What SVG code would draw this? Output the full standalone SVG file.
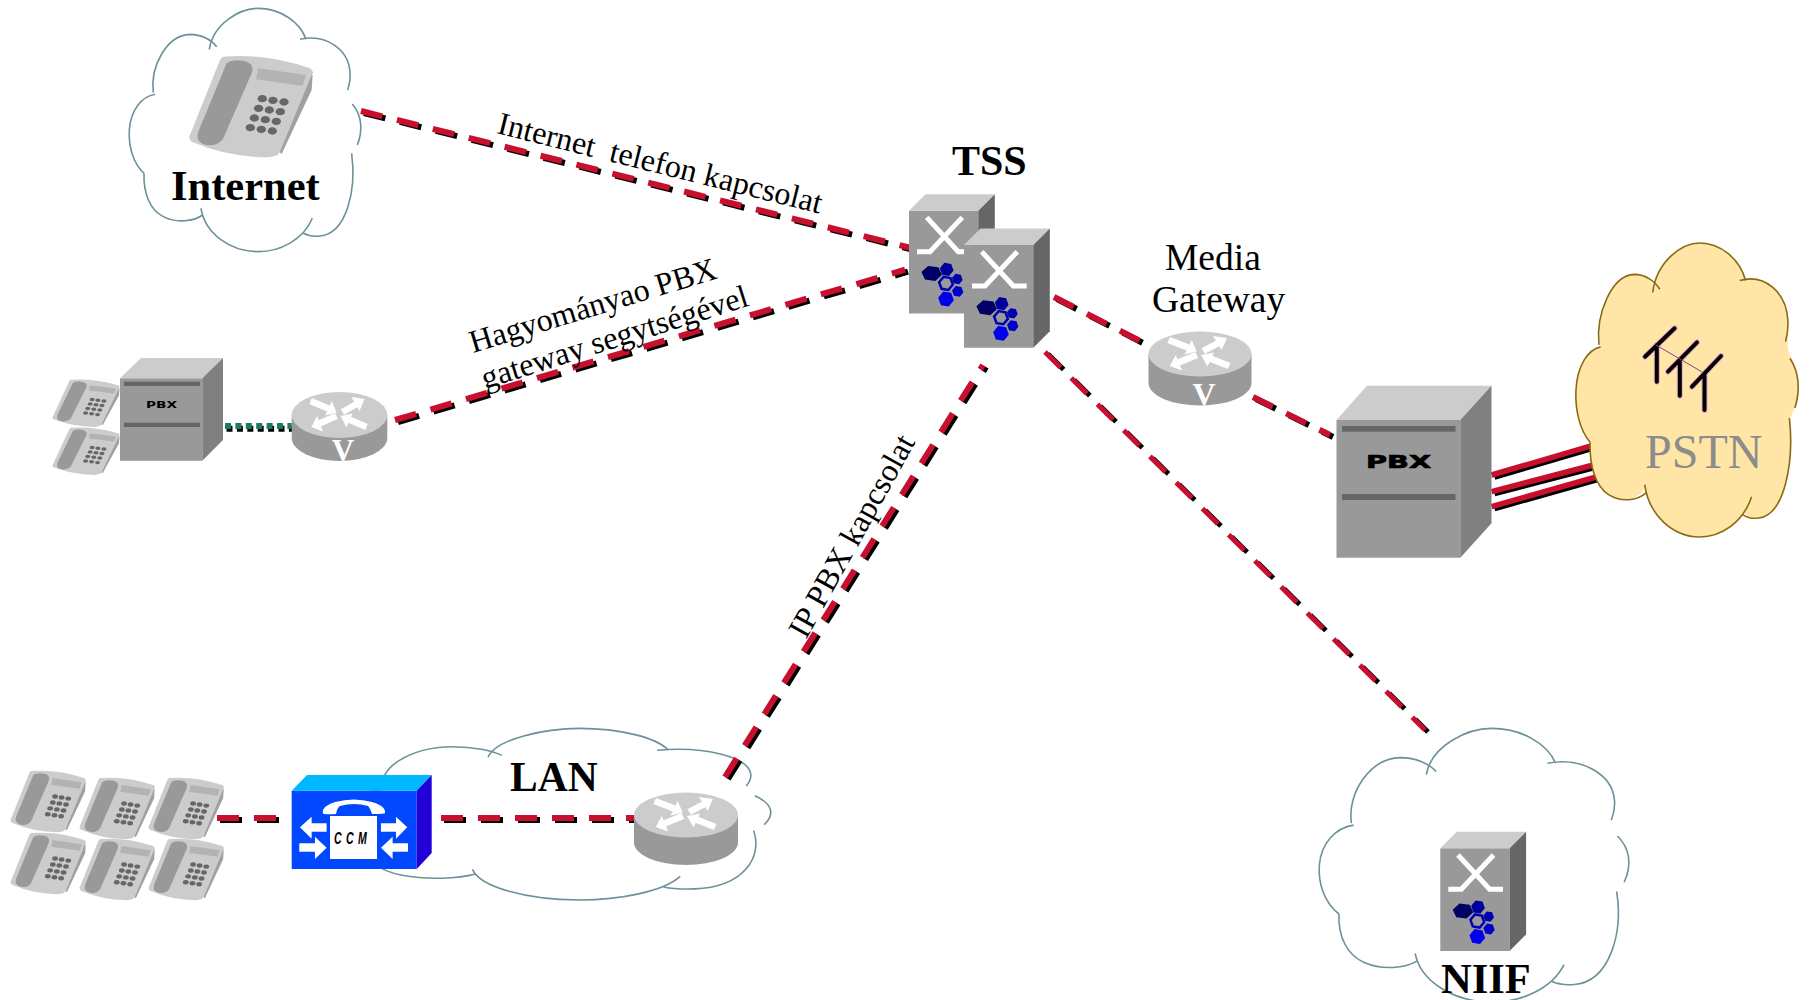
<svg xmlns="http://www.w3.org/2000/svg" xmlns:xlink="http://www.w3.org/1999/xlink" width="1810" height="1000" viewBox="0 0 1810 1000">
<style>
text{font-family:"Liberation Serif","Times New Roman",serif;fill:#000}
.b{font-weight:bold}
.cl{fill:none;stroke:var(--c,#6b9298);stroke-width:1.6;vector-effect:non-scaling-stroke}
.r{fill:none;stroke:#c8102e;stroke-width:6;stroke-dasharray:22 15}
.k{fill:none;stroke:#000;stroke-width:6;stroke-dasharray:22 15}
.rt{stroke-width:5}
.top{fill:#ccc}.front{fill:#999}.side{fill:#666}.side2{fill:#808080}.band{fill:#666}
.w{fill:#fff}.ws{stroke:#fff;fill:none}
</style>
<defs>
<g id="cloud">
<path class="cl" d="M328 148C340 70 420 25 475 25C540 25 600 65 618 118"/>
<path class="cl" d="M600 118C680 100 745 150 750 215C752 235 748 255 743 270"/>
<path class="cl" d="M757 312C785 345 790 390 772 435"/>
<path class="cl" d="M755 460C770 570 740 700 660 708C640 710 625 708 610 700"/>
<path class="cl" d="M637 655C610 720 540 755 475 755C390 755 315 700 303 625"/>
<path class="cl" d="M308 645C280 665 230 670 190 650C150 630 130 580 132 520"/>
<path class="cl" d="M132 520C100 490 85 440 88 390C92 330 125 290 165 283"/>
<path class="cl" d="M160 278C150 200 200 105 270 103C305 103 335 120 350 140"/>
</g>
<g id="phone">
<path fill="#a0a0a0" d="M625 225L638 225L635 270L545 462L520 440Z"/>
<path fill="#ccc" d="M370 170Q500 160 630 205Q645 215 635 225L540 455Q535 470 500 472Q380 470 275 425Q262 415 272 400L360 180Q363 172 370 170Z"/>
<path fill="#999" d="M380 190Q400 175 440 185Q465 195 455 220L370 415Q355 440 320 435Q285 428 295 395Z"/>
<polygon fill="#b3b3b3" points="475,205 618,225 608,258 468,238"/>
<g fill="#666">
<ellipse cx="487" cy="296" rx="14" ry="11"/><ellipse cx="519" cy="301" rx="14" ry="11"/><ellipse cx="552" cy="306" rx="14" ry="11"/>
<ellipse cx="476" cy="325" rx="14" ry="11"/><ellipse cx="508" cy="330" rx="14" ry="11"/><ellipse cx="541" cy="335" rx="14" ry="11"/>
<ellipse cx="463" cy="354" rx="14" ry="11"/><ellipse cx="496" cy="359" rx="14" ry="11"/><ellipse cx="529" cy="364" rx="14" ry="11"/>
<ellipse cx="451" cy="383" rx="14" ry="11"/><ellipse cx="484" cy="388" rx="14" ry="11"/><ellipse cx="517" cy="393" rx="14" ry="11"/>
</g>
</g>
<g id="rarrows">
<g stroke="#fff" stroke-width="6.5" fill="none">
<path d="M-29 -14L-11 -6.5M3 -3L17 -11M-3 1L-20 8.4M27 12L10 4.7"/>
</g>
<g fill="#fff">
<polygon points="-3,-2.5 -14.3,0.5 -7.7,-14"/>
<polygon points="25,-16 20,-4 12,-18"/>
<polygon points="-28,12 -16.5,16.4 -22.5,1"/>
<polygon points="1,1 7,12.5 13,-1.5"/>
</g>
</g>
<polygon id="hex" points="0.98,0.17 0.34,0.94 -0.64,0.77 -0.98,-0.17 -0.34,-0.94 0.64,-0.77"/>
<g id="server">
<polygon class="front" points="0,0 69.3,0 69.3,102.7 0,102.7"/>
<polygon class="top" points="0,0 16.5,-16.5 85.8,-16.5 69.3,0"/>
<polygon class="side" points="69.3,0 85.8,-16.5 85.8,86.2 69.3,102.7"/>
<path class="ws" stroke-width="5" d="M8 41H21L53.3 6.7M17.7 6.7L49.3 41H62.7"/>
<use xlink:href="#hex" href="#hex" transform="translate(22.7 62.7) scale(10.5 8)" fill="#000066"/>
<use xlink:href="#hex" href="#hex" transform="translate(37.7 58.7) scale(7)" fill="#000099"/>
<use xlink:href="#hex" href="#hex" transform="translate(37 72.7) scale(7)" fill="none" stroke="#0000b0" stroke-width="0.35"/>
<use xlink:href="#hex" href="#hex" transform="translate(48.3 68.3) scale(5.5)" fill="#0000b0"/>
<use xlink:href="#hex" href="#hex" transform="translate(48.7 80.7) scale(5.8)" fill="#0000cc"/>
<use xlink:href="#hex" href="#hex" transform="translate(37 88.3) scale(8)" fill="#0000ee"/>
</g>
</defs>
<rect width="1810" height="1000" fill="#fff"/>

<g id="clouds">
<use xlink:href="#cloud" href="#cloud" id="cloud-internet" transform="translate(100 0) scale(.3333)"/>
<use xlink:href="#cloud" href="#cloud" id="cloud-lan" transform="translate(284 722.5) scale(.622 .235)"/>
<use xlink:href="#cloud" href="#cloud" id="cloud-niif" transform="translate(1280.1 719) scale(.4457 .375)"/>
</g>

<g id="connectors">
<g transform="translate(3 2)">
<path class="k" d="M361 111L911 248"/>
<path class="k" d="M395 420L905 269.7"/>
<path class="k" d="M1054 297L1142 342"/>
<path class="k" d="M1253 397L1330 435"/>
<path class="k rt" d="M1045 352L1425 730"/>
<path class="k" d="M725 777L983 365"/>
<path class="k" d="M441 818L635 818"/>
<path class="k" d="M217 818L280 818"/>
<path fill="none" stroke="#000" stroke-width="5.5" d="M1491.5 475L1597 444.2M1491.5 491.7L1601 463M1491.5 506.7L1605 474.5"/>
<path fill="none" stroke="#000" stroke-width="6" stroke-dasharray="6 4.4" d="M225 427.3L291.7 427.3" transform="translate(-1.5 -.5)"/>
</g>
<path class="r" d="M361 111L911 248"/>
<path class="r" d="M395 420L905 269.7"/>
<path class="r" d="M1054 297L1142 342"/>
<path class="r" d="M1253 397L1330 435"/>
<path class="r rt" d="M1045 352L1425 730"/>
<path class="r" d="M725 777L983 365"/>
<path class="r" d="M441 818L635 818"/>
<path class="r" d="M217 818L280 818"/>
<path fill="none" stroke="#c8102e" stroke-width="5.5" d="M1491.5 475L1597 444.2M1491.5 491.7L1601 463M1491.5 506.7L1605 474.5"/>
<path fill="none" stroke="#1a7a62" stroke-width="6" stroke-dasharray="6 4.4" d="M225 426L291.7 426"/>
</g>

<g id="internet">
<use xlink:href="#phone" href="#phone" transform="translate(100 0) scale(.3333)"/>
<text class="b" x="171" y="200" font-size="42.5">Internet</text>
</g>

<g id="label-internet-link"><text transform="translate(496 133) rotate(14)" font-size="32" xml:space="preserve">Internet  telefon kapcsolat</text></g>
<g id="label-pbx-link">
<text transform="translate(473 353) rotate(-17)" font-size="32">Hagyományao PBX</text>
<text transform="translate(485 389) rotate(-17.5)" font-size="32">gateway segytségével</text>
</g>
<g id="label-ip-link"><text transform="translate(806 640) rotate(-61)" font-size="32">IP PBX kapcsolat</text></g>

<g id="tss-1"><use xlink:href="#server" href="#server" transform="translate(909 210.7)"/></g>
<g id="tss-2"><use xlink:href="#server" href="#server" transform="translate(964 245)"/></g>
<g id="tss-label"><text class="b" x="952" y="175" font-size="42">TSS</text></g>

<g id="media-gateway">
<path class="front" d="M1148.5 354V383A51.5 22.5 0 0 0 1251.5 383V354Z"/>
<ellipse class="top" cx="1200" cy="354" rx="51.5" ry="22.5"/>
<use xlink:href="#rarrows" href="#rarrows" transform="translate(1200 354) scale(1.08 1)"/>
<text class="b" x="1204" y="405" font-size="32" text-anchor="middle" style="fill:#fff">V</text>
<text x="1165" y="270" font-size="37.5">Media</text>
<text x="1152" y="312" font-size="37.5">Gateway</text>
</g>

<g id="phones-left">
<use xlink:href="#phone" href="#phone" transform="translate(4 353.3) scale(.181 .156)"/>
<use xlink:href="#phone" href="#phone" transform="translate(4 401.3) scale(.181 .156)"/>
</g>
<g id="pbx-small">
<polygon class="front" points="120,378.3 202.3,378.3 202.3,460.7 120,460.7"/>
<polygon class="top" points="120,378.3 141,358 223,358 202.3,378.3"/>
<polygon class="side2" points="202.3,378.3 223,358 223,440 202.3,460.7"/>
<rect class="band" x="124" y="381.7" width="76" height="4.3"/>
<rect class="band" x="124" y="422.7" width="76" height="4.3"/>
<text x="146" y="408" font-size="8" textLength="31" lengthAdjust="spacingAndGlyphs" style="font-family:'DejaVu Sans',sans-serif;font-weight:bold">PBX</text>
</g>
<g id="router-pbx">
<path class="front" d="M291.7 415V438A47.8 23 0 0 0 387.3 438V415Z"/>
<ellipse class="top" cx="339.5" cy="415" rx="47.8" ry="23"/>
<use xlink:href="#rarrows" href="#rarrows" transform="translate(339.5 415)"/>
<text class="b" x="343" y="461" font-size="31" text-anchor="middle" style="fill:#fff">V</text>
</g>

<g id="pbx-big">
<polygon class="front" points="1336.5,420 1460.3,420 1460.3,557.7 1336.5,557.7"/>
<polygon class="top" points="1336.5,420 1367,385.7 1491.5,385.7 1460.3,420"/>
<polygon class="side2" points="1460.3,420 1491.5,385.7 1491.5,523.3 1460.3,557.7"/>
<rect class="band" x="1342" y="426" width="113.5" height="5.7"/>
<rect class="band" x="1342" y="494" width="113.5" height="6"/>
<text x="1366" y="468" font-size="18" textLength="65" lengthAdjust="spacingAndGlyphs" stroke="#000" stroke-width=".7" style="font-family:'DejaVu Sans',sans-serif;font-weight:bold">PBX</text>
</g>

<g id="pstn" style="--c:#8b6a14">
<path transform="translate(1547.8 232.9) scale(.32 .4027)" fill="#ffe6a6" d="M132 520C100 490 85 440 88 390C92 330 125 290 165 283C150 200 200 105 270 103C305 103 328 120 335 140C345 60 420 25 475 25C540 25 600 65 618 118C680 100 745 150 750 215C752 235 748 255 750 290C785 345 790 390 772 435L757 460C770 570 740 700 660 708C640 710 625 708 615 695C590 730 540 755 475 755C390 755 320 700 303 635C280 665 230 670 190 650C150 630 130 580 132 520Z"/>
<use xlink:href="#cloud" href="#cloud" transform="translate(1547.8 232.9) scale(.32 .4027)"/>
<g fill="none" stroke-linecap="round">
<path stroke="#e8a8c8" stroke-width="6" d="M1656.8 345V381.7M1645 356.7L1674.6 328.3M1679.8 361.7V395.7M1668 371.7L1697 342.3M1704.5 373.3V410M1692 386.7L1721 356"/>
<path stroke="#000" stroke-width="4" d="M1656.8 345V381.7M1645 356.7L1674.6 328.3M1679.8 361.7V395.7M1668 371.7L1697 342.3M1704.5 373.3V410M1692 386.7L1721 356"/>
<path stroke="#7a4a8a" stroke-width="1" d="M1656 345L1701.6 371.7"/>
</g>
<text x="1645" y="468" font-size="48" style="fill:#8c8c8c">PSTN</text>
</g>

<g id="phones-lan">
<use xlink:href="#phone" href="#phone" transform="translate(-43.8 736.5) scale(.203)"/>
<use xlink:href="#phone" href="#phone" transform="translate(25.2 743.5) scale(.203)"/>
<use xlink:href="#phone" href="#phone" transform="translate(94.2 743.5) scale(.203)"/>
<use xlink:href="#phone" href="#phone" transform="translate(-43.8 798.5) scale(.203)"/>
<use xlink:href="#phone" href="#phone" transform="translate(25.2 804.5) scale(.203)"/>
<use xlink:href="#phone" href="#phone" transform="translate(94.2 804.5) scale(.203)"/>
</g>

<g id="ccm">
<polygon fill="#0047ff" points="291.7,790.7 416.7,790.7 416.7,869 291.7,869"/>
<polygon fill="#00b8ff" points="291.7,790.7 307,775 431.7,775 416.7,790.7"/>
<polygon fill="#2200d8" points="416.7,790.7 431.7,775 431.7,853 416.7,869"/>
<rect class="w" x="330" y="816" width="47" height="43"/>
<path class="w" d="M322.7 813Q322 806 335 802Q354 797 372 802Q386 806 385 813Q385 814 372 814Q370 808 368 806Q354 802 340 806Q337 808 336 814Q323 815 322.7 813Z"/>
<g transform="translate(0 740) scale(.3333)" fill="#fff">
<polygon points="900,262 935,230 935,250 980,250 980,275 935,275 935,296"/>
<polygon points="1222,262 1188,230 1188,250 1143,250 1143,275 1188,275 1188,296"/>
<polygon points="980,323 945,290 945,310 898,310 898,335 945,335 945,357"/>
<polygon points="1143,323 1178,290 1178,310 1224,310 1224,335 1178,335 1178,357"/>
</g>
<text transform="translate(334 844) scale(.62 1)" font-size="17" textLength="53" lengthAdjust="spacing" style="font-family:'Liberation Sans',sans-serif;font-weight:bold;font-style:italic">C C M</text>
</g>

<g id="router-lan">
<path class="front" d="M634 815V842.5A52 22.5 0 0 0 738 842.5V815Z"/>
<ellipse class="top" cx="686" cy="815" rx="52" ry="22.5"/>
<use xlink:href="#rarrows" href="#rarrows" transform="translate(686 815) scale(1.08 1)"/>
</g>
<g id="lan-label"><text class="b" x="510" y="791" font-size="41.5">LAN</text></g>

<g id="niif">
<use xlink:href="#server" href="#server" transform="translate(1440.3 848.3)"/>
<text class="b" x="1441" y="993" font-size="42.5">NIIF</text>
</g>
</svg>
